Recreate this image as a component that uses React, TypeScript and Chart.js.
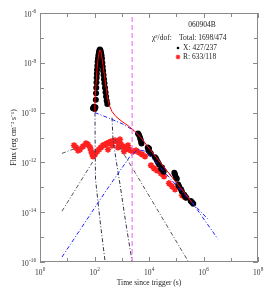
import React, { useEffect, useRef } from "react";
import { Chart, registerables } from "chart.js";

Chart.register(...registerables);

const FONT = '"Liberation Serif", "Times New Roman", serif';

// axis ticks (decades)
const xTickExps = [0, 1, 2, 3, 4, 5, 6, 7, 8];
const xLabelExps = [0, 2, 4, 6, 8];
const yTickExps = [-16, -15, -14, -13, -12, -11, -10, -9, -8, -7, -6];
const yLabelExps = [-16, -14, -12, -10, -8, -6];

// X-ray data: [time (s), flux]
const xrayData: [number, number][] = [
  [88, 1.5e-10], [95, 1.7e-10], [102, 1.4e-10], [108, 1.65e-10],
  [112, 3.3e-10], [114, 6.0e-10], [116, 1.0e-9], [118, 1.6e-9], [120, 2.5e-9],
  [122, 3.6e-9], [124, 5.2e-9], [127, 7.6e-9], [130, 1.1e-8], [134, 1.5e-8],
  [139, 2.0e-8], [145, 2.6e-8], [151, 3.1e-8], [157, 3.4e-8],
  [165, 3.2e-8], [173, 2.6e-8], [181, 2.0e-8], [188, 1.5e-8], [194, 1.0e-8],
  [200, 7.0e-9], [207, 4.8e-9], [215, 3.2e-9], [223, 2.2e-9], [232, 1.5e-9],
  [243, 1.0e-9], [254, 6.5e-10], [266, 4.4e-10], [280, 3.0e-10], [295, 2.2e-10],
  [3950, 1.45e-11], [4300, 1.25e-11], [4680, 1.0e-11], [4900, 8.3e-12], [5080, 6.9e-12],
  [5300, 5.8e-12], [9000, 4.0e-12], [9500, 3.0e-12], [10000, 3.6e-12], [10890, 2.5e-12],
  [11800, 2.2e-12], [16500, 1.6e-12], [18070, 1.45e-12], [19500, 1.2e-12],
  [21400, 1.0e-12], [23500, 8.3e-13], [28000, 5.5e-13], [30000, 6.3e-13],
  [32650, 4.8e-13], [34500, 4.2e-13], [85000, 3.8e-13], [90000, 3.3e-13],
  [98000, 2.5e-13], [105000, 2.2e-13], [118000, 1.3e-13], [126000, 1.1e-13],
  [149000, 8.3e-14], [160000, 7.0e-14], [195000, 5.0e-14], [209500, 4.4e-14],
  [235000, 3.8e-14], [340000, 2.8e-14], [378000, 2.5e-14], [420000, 2.2e-14],
];

// R-band data: [time (s), flux]
const rData: [number, number][] = [
  [17.7, 4.8e-12], [20.9, 4.0e-12], [24.8, 3.0e-12], [29.4, 3.3e-12], [37.8, 4.4e-12],
  [48.8, 5.8e-12], [57.7, 5.2e-12], [68.4, 4.0e-12], [74.4, 3.0e-12], [81, 2.3e-12],
  [88, 1.74e-12], [104, 2.1e-12], [124, 2.75e-12], [146, 3.3e-12], [173, 4.0e-12],
  [205, 4.8e-12], [243, 5.2e-12], [288, 5.8e-12], [313, 3.3e-12], [340, 6.3e-12],
  [403, 6.9e-12], [439, 4.8e-12], [478, 6.9e-12], [565, 7.6e-12], [670, 6.9e-12],
  [728, 4.0e-12], [794, 6.3e-12], [862, 8.3e-12], [938, 5.2e-12], [1110, 4.4e-12],
  [1210, 2.75e-12], [1315, 4.0e-12], [1560, 3.6e-12], [1695, 4.8e-12], [1845, 3.3e-12],
  [2185, 3.0e-12], [2590, 2.75e-12], [3335, 3.0e-12], [4295, 2.5e-12], [5535, 2.1e-12],
  [7130, 1.74e-12], [11830, 7.6e-13], [15250, 5.75e-13], [19660, 4.8e-13],
  [27560, 3.6e-13], [35500, 2.75e-13], [54200, 1.45e-13], [69800, 1.1e-13],
  [90000, 8.3e-14], [162500, 4.8e-14], [209500, 4.0e-14],
];

// model curves: [time (s), flux]
const xTotalModel: [number, number][] = [
  [96, 1.1e-10], [104.3, 3.3e-10], [113.5, 1.32e-9], [123.5, 5.2e-9], [134, 1.32e-8],
  [146, 2.5e-8], [159, 3.3e-8], [173, 2.75e-8], [205, 8.3e-9], [243, 2.1e-9],
  [288, 5.2e-10], [340, 2.1e-10], [439, 1.1e-10], [615, 6.9e-11], [1020, 4.4e-11],
  [1695, 3.0e-11], [2820, 1.9e-11], [4680, 1.1e-11], [10890, 3.3e-12], [378000, 2.5e-14],
];
const xAfterglow: [number, number][] = [
  [104, 1.0e-10], [371, 5.75e-11], [1020, 3.6e-11], [2380, 2.1e-11], [4680, 1.1e-11],
  [10890, 3.3e-12], [378000, 2.5e-14], [3.4e6, 8.3e-16],
];
const rAfterglow: [number, number][] = [
  [6.4, 1.58e-16], [288, 8.3e-14], [2010, 1.74e-12], [3950, 3.3e-12], [7760, 2.75e-12],
  [16600, 1.1e-12], [209500, 4.8e-14], [1.46e6, 5.25e-15],
];
const rEarlyRise: [number, number][] = [[6.4, 2.3e-12], [24.8, 4.0e-12]];
const rSecondRise: [number, number][] = [[6.4, 1.1e-14], [88, 1.1e-12]];
const flareA: [number, number][] = [
  [104.3, 1.0e-10], [106, 3.3e-12], [109, 2.1e-13], [159, 4.8e-15], [243, 1.1e-16],
];
const flareB: [number, number][] = [
  [439, 6.3e-11], [478, 8.3e-12], [615, 1.32e-12], [862, 1.32e-13], [1432, 3.3e-15], [2380, 1.1e-16],
];
const rFlareDecay: [number, number][] = [[565, 8.3e-12], [3060, 4.0e-13], [270000, 1.1e-16]];

const breakTime = 2400;
const legendTitle = "060904B";
const chiLabel = "χ²/dof:";
const chiTotal = "Total: 1698/474";
const chiX = "X: 427/237";
const chiR = "R: 633/118";

const BASE_PX = 7.5;
const EXP_PX = 5.2;

const framePlugin = {
  id: "frame",
  afterDatasetsDraw(chart: any) {
    const { ctx, chartArea: a, scales } = chart;
    ctx.save();
    ctx.strokeStyle = "#8a8a8a";
    ctx.lineWidth = 1;
    ctx.strokeRect(a.left + 0.5, a.top + 0.5, a.right - a.left - 1, a.bottom - a.top - 1);
    ctx.beginPath();
    for (const e of xTickExps) {
      const px = Math.round(scales.x.getPixelForValue(Math.pow(10, e))) + 0.5;
      const len = e % 2 === 0 ? 5 : 4;
      ctx.moveTo(px, a.bottom);
      ctx.lineTo(px, a.bottom - len);
      ctx.moveTo(px, a.top);
      ctx.lineTo(px, a.top + len);
    }
    for (const e of yTickExps) {
      const py = Math.round(scales.y.getPixelForValue(Math.pow(10, e))) + 0.5;
      const len = e % 2 === 0 ? 5 : 4;
      ctx.moveTo(a.left, py);
      ctx.lineTo(a.left + len, py);
      ctx.moveTo(a.right, py);
      ctx.lineTo(a.right - len, py);
    }
    ctx.stroke();
    ctx.restore();
  },
};

// power-of-ten tick labels with a real raised exponent
const tickLabelPlugin = {
  id: "powerLabels",
  afterDraw(chart: any) {
    const { ctx, chartArea: a, scales } = chart;
    ctx.save();
    ctx.fillStyle = "#333";
    ctx.textBaseline = "middle";
    const baseFont = `${BASE_PX}px ${FONT}`;
    const expFont = `${EXP_PX}px ${FONT}`;
    const measure = (e: number) => {
      ctx.font = baseFont;
      const wb = ctx.measureText("10").width;
      ctx.font = expFont;
      const we = ctx.measureText(String(e)).width;
      return { wb, we };
    };
    const draw = (e: number, left: number, cy: number) => {
      const { wb } = measure(e);
      ctx.font = baseFont;
      ctx.textAlign = "left";
      ctx.fillText("10", left, cy + 1.2);
      ctx.font = expFont;
      ctx.fillText(String(e), left + wb + 0.3, cy - 2);
    };
    for (const e of xLabelExps) {
      const px = scales.x.getPixelForValue(Math.pow(10, e));
      const { wb, we } = measure(e);
      draw(e, px - (wb + we) / 2, a.bottom + 9.5);
    }
    for (const e of yLabelExps) {
      const py = scales.y.getPixelForValue(Math.pow(10, e));
      const { wb, we } = measure(e);
      draw(e, a.left - 4 - (wb + we + 0.3), py + 0.5);
    }
    ctx.restore();
  },
};

const legendPlugin = {
  id: "fitLegend",
  afterDraw(chart: any) {
    const { ctx, chartArea: a } = chart;
    const r = a.right;
    ctx.save();
    ctx.font = `${BASE_PX}px ${FONT}`;
    ctx.fillStyle = "#222";
    ctx.textBaseline = "middle";
    ctx.textAlign = "center";
    ctx.fillText(legendTitle, r - 56, a.top + 12);
    ctx.textAlign = "left";
    ctx.fillText(chiLabel, r - 106, a.top + 25);
    ctx.fillText(chiTotal, r - 79, a.top + 25);
    ctx.fillText(chiX, r - 75, a.top + 35);
    ctx.fillText(chiR, r - 75, a.top + 44);
    ctx.fillStyle = "#000";
    ctx.beginPath();
    ctx.arc(r - 80, a.top + 35, 1.3, 0, Math.PI * 2);
    ctx.fill();
    ctx.strokeStyle = "#ff2020";
    ctx.lineWidth = 1.2;
    const cx = r - 80, cy = a.top + 44, s = 2.3;
    ctx.beginPath();
    ctx.moveTo(cx - s, cy); ctx.lineTo(cx + s, cy);
    ctx.moveTo(cx, cy - s); ctx.lineTo(cx, cy + s);
    ctx.moveTo(cx - s * 0.7, cy - s * 0.7); ctx.lineTo(cx + s * 0.7, cy + s * 0.7);
    ctx.moveTo(cx - s * 0.7, cy + s * 0.7); ctx.lineTo(cx + s * 0.7, cy - s * 0.7);
    ctx.stroke();
    ctx.restore();
  },
};

const toPts = (arr: [number, number][]) => arr.map(([x, y]) => ({ x, y }));

const lineSet = (arr: [number, number][], color: string, dash: number[], width = 1) => ({
  data: toPts(arr),
  showLine: true,
  borderColor: color,
  backgroundColor: color,
  borderWidth: width,
  borderDash: dash,
  pointRadius: 0,
  tension: 0,
  order: 0,
});

export default function App() {
  const ref = useRef<HTMLCanvasElement>(null);
  useEffect(() => {
    const canvas = ref.current;
    if (!canvas) return;
    const dashDot = [4, 2, 1, 2];
    const chart = new Chart(canvas, {
      type: "scatter",
      data: {
        datasets: [
          lineSet([[breakTime, 1e-16], [breakTime, 1e-6]], "#ee5fee", [5, 3]),
          lineSet(xTotalModel, "#ff0000", [], 1),
          lineSet(xAfterglow, "#1f1fff", dashDot),
          lineSet(rAfterglow, "#1f1fff", dashDot),
          lineSet(rEarlyRise, "#555555", dashDot),
          lineSet(rSecondRise, "#555555", dashDot),
          lineSet(flareA, "#33334d", dashDot),
          lineSet(flareB, "#33334d", dashDot),
          lineSet(rFlareDecay, "#555555", dashDot),
          {
            data: toPts(xrayData),
            pointStyle: "circle",
            pointRadius: 3,
            backgroundColor: "#000",
            borderColor: "#000",
            borderWidth: 0,
            order: 1,
          },
          {
            data: toPts(rData),
            pointStyle: "star",
            pointRadius: 3.2,
            backgroundColor: "#ff2020",
            borderColor: "#ff2020",
            borderWidth: 1.6,
            order: 2,
          },
        ] as any,
      },
      options: {
        animation: false,
        responsive: false,
        maintainAspectRatio: false,
        layout: { padding: { top: 13, right: 12, left: 0, bottom: 0 } },
        plugins: { legend: { display: false }, tooltip: { enabled: false } },
        scales: {
          x: {
            type: "logarithmic",
            min: 1,
            max: 1e8,
            position: "bottom",
            afterBuildTicks: (s: any) => {
              s.ticks = xTickExps.map((e) => ({ value: Math.pow(10, e) }));
            },
            afterFit: (s: any) => {
              s.height = 29;
            },
            ticks: { display: false },
            grid: { display: false },
            border: { display: false },
            title: {
              display: true,
              text: "Time since trigger (s)",
              color: "#222",
              font: { family: FONT, size: BASE_PX },
              padding: { top: 0, bottom: 3 },
            },
          },
          y: {
            type: "logarithmic",
            min: 1e-16,
            max: 1e-6,
            afterBuildTicks: (s: any) => {
              s.ticks = yTickExps.map((e) => ({ value: Math.pow(10, e) }));
            },
            afterFit: (s: any) => {
              s.width = 40;
            },
            ticks: { display: false },
            grid: { display: false },
            border: { display: false },
            title: {
              display: true,
              text: "Flux (erg cm⁻² s⁻¹)",
              color: "#222",
              font: { family: FONT, size: BASE_PX },
              padding: { top: 10, bottom: 0 },
            },
          },
        },
      } as any,
      plugins: [framePlugin, tickLabelPlugin, legendPlugin],
    });
    return () => chart.destroy();
  }, []);
  return (
    <div style={{ position: "fixed", left: 0, top: 0, width: 270, height: 291, background: "#fff" }}>
      <canvas ref={ref} width={270} height={291} style={{ width: 270, height: 291, display: "block" }} />
    </div>
  );
}
